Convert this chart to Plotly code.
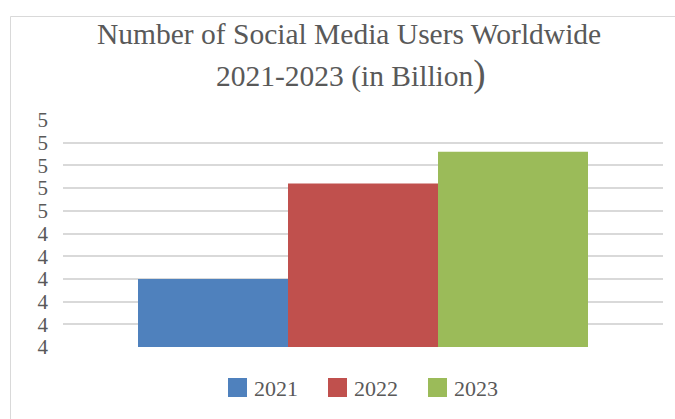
import plotly.graph_objects as go

# ---- data ----
years = ["2021", "2022", "2023"]
users_billion = [4.30, 4.72, 4.86]
colors = ["#4F81BD", "#C0504D", "#9BBB59"]
tick_values = [4.0, 4.1, 4.2, 4.3, 4.4, 4.5, 4.6, 4.7, 4.8, 4.9, 5.0]
tick_labels = ["4", "4", "4", "4", "4", "4", "5", "5", "5", "5", "5"]
title_line1 = "Number of Social Media Users Worldwide"
title_line2 = "2021-2023 (in Billion"

W, H = 675, 419
ML, MR, MT, MB = 63, 12, 120, 72
PW, PH = W - ML - MR, H - MT - MB

def px_x(x):
    return (x - ML) / PW

def px_y(y):
    return (H - MB - y) / PH

FONT = "Liberation Serif"
GREY = "#595959"

fig = go.Figure()
for name, val, col in zip(years, users_billion, colors):
    fig.add_trace(go.Bar(
        x=[""], y=[val], name=name, marker=dict(color=col, line=dict(width=0)),
        showlegend=False,
    ))

shapes = []
annotations = []

# outer chart border (left and top edges visible)
shapes.append(dict(type="rect", xref="paper", yref="paper",
                   x0=px_x(10.5), x1=px_x(690), y0=px_y(430), y1=px_y(16.5),
                   line=dict(color="#d9d9d9", width=1), fillcolor="rgba(0,0,0,0)",
                   layer="below"))

# title (two lines)
annotations.append(dict(text=title_line1, xref="paper", yref="paper",
                        x=px_x(349), y=px_y(34), xanchor="center", yanchor="middle",
                        showarrow=False, font=dict(family=FONT, size=29.5, color=GREY)))
annotations.append(dict(text=title_line2 + "<span style='font-size:37px'>)</span>",
                        xref="paper", yref="paper",
                        x=px_x(351), y=px_y(74), xanchor="center", yanchor="middle",
                        showarrow=False, font=dict(family=FONT, size=29.5, color=GREY)))

# legend (bottom, centred)
for i, (name, col) in enumerate(zip(years, colors)):
    x0 = 228 + 100 * i
    shapes.append(dict(type="rect", xref="paper", yref="paper",
                       x0=px_x(x0), x1=px_x(x0 + 19), y0=px_y(397), y1=px_y(378),
                       fillcolor=col, line=dict(width=0)))
    annotations.append(dict(text=name, xref="paper", yref="paper",
                            x=px_x(x0 + 24), y=px_y(388), xanchor="left", yanchor="middle",
                            showarrow=False, font=dict(family=FONT, size=22, color=GREY)))

fig.update_layout(
    width=W, height=H,
    margin=dict(l=ML, r=MR, t=MT, b=MB, autoexpand=False),
    paper_bgcolor="white", plot_bgcolor="white",
    font=dict(family=FONT, color=GREY),
    barmode="group", bargap=0.25, bargroupgap=0,
    shapes=shapes, annotations=annotations,
    showlegend=False,
    xaxis=dict(showticklabels=False, showgrid=False, zeroline=False, showline=False,
               ticks=""),
    yaxis=dict(range=[4.0, 5.0], tickvals=tick_values, ticktext=tick_labels,
               showgrid=True, gridcolor="#d9d9d9", gridwidth=1.5, zeroline=False,
               showline=False, ticks="", ticklabelstandoff=14,
               tickfont=dict(family=FONT, size=21, color=GREY)),
)

fig.write_html("out.html")
